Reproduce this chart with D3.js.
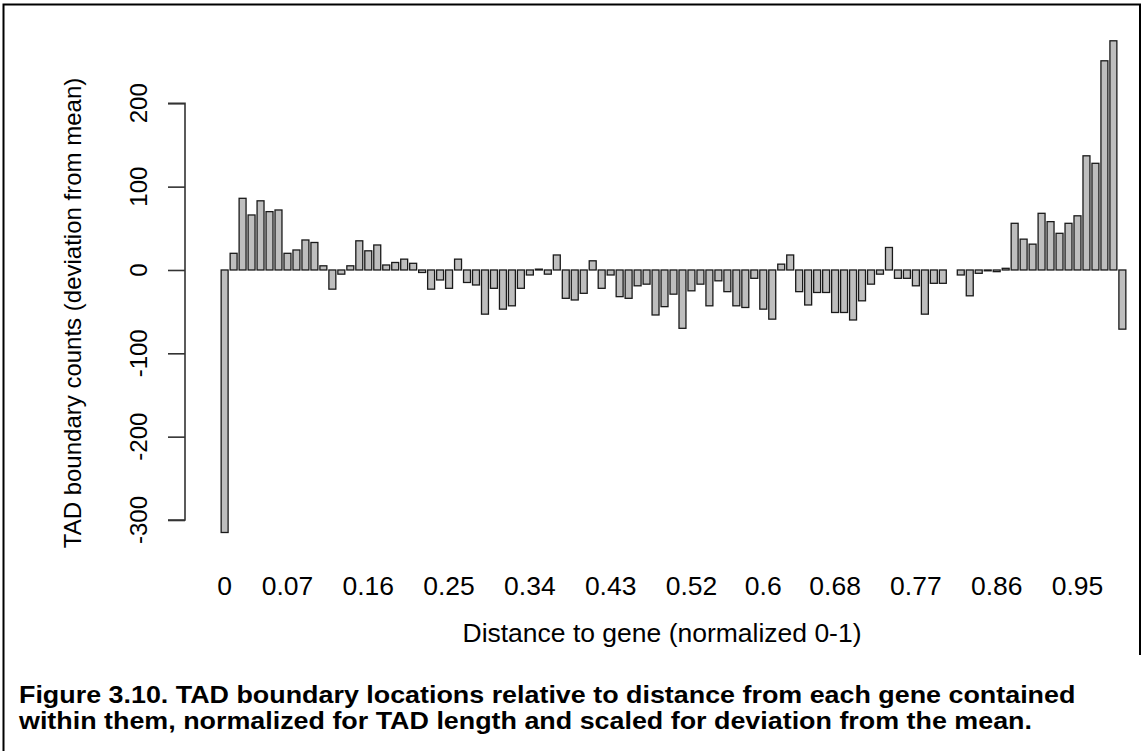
<!DOCTYPE html>
<html>
<head>
<meta charset="utf-8">
<script src="https://cdn.jsdelivr.net/npm/d3@7/dist/d3.min.js"></script>
<style>
  html, body { margin: 0; padding: 0; background: #fff; }
  svg { display: block; }
  text { font-family: "Liberation Sans", Arial, sans-serif; fill: #000; }
</style>
</head>
<body>
<svg id="chart" width="1143" height="751"></svg>
<script>
// ---- data ----
const bins = ["0.00","0.01","0.02","0.03","0.04","0.05","0.06","0.07","0.08","0.09",
  "0.10","0.11","0.12","0.13","0.14","0.15","0.16","0.17","0.18","0.19",
  "0.20","0.21","0.22","0.23","0.24","0.25","0.26","0.27","0.28","0.29",
  "0.30","0.31","0.32","0.33","0.34","0.35","0.36","0.37","0.38","0.39",
  "0.40","0.41","0.42","0.43","0.44","0.45","0.46","0.47","0.48","0.49",
  "0.50","0.51","0.52","0.53","0.54","0.55","0.56","0.57","0.58","0.59",
  "0.60","0.61","0.62","0.63","0.64","0.65","0.66","0.67","0.68","0.69",
  "0.70","0.71","0.72","0.73","0.74","0.75","0.76","0.77","0.78","0.79",
  "0.80","0.81","0.82","0.83","0.84","0.85","0.86","0.87","0.88","0.89",
  "0.90","0.91","0.92","0.93","0.94","0.95","0.96","0.97","0.98","0.99","1.00"];
const deviation = [
  -315, 20, 86, 66, 83, 70, 72, 20, 24, 36,
  33, 5, -23, -5, 5, 35, 23, 30, 6, 9,
  13, 8, -3, -23, -12, -22, 13, -15, -18, -53,
  -22, -47, -43, -22, -6, 1, -5, 18, -34, -36,
  -28, 11, -22, -6, -32, -34, -19, -17, -54, -44,
  -29, -70, -25, -17, -43, -13, -26, -43, -45, -10,
  -47, -59, 7, 18, -26, -42, -27, -27, -51, -51,
  -60, -37, -17, -5, 27, -10, -10, -19, -53, -16,
  -16, 0, -6, -31, -4, -1, -2, 2, 56, 37,
  31, 68, 58, 44, 56, 65, 137, 128, 251, 275, -71];
const xTickBins = ["0.00","0.07","0.16","0.25","0.34","0.43","0.52","0.60","0.68","0.77","0.86","0.95"];
const xTickLabels = ["0","0.07","0.16","0.25","0.34","0.43","0.52","0.6","0.68","0.77","0.86","0.95"];
const yTicks = [-300, -200, -100, 0, 100, 200];
const xTitle = "Distance to gene (normalized 0-1)";
const yTitle = "TAD boundary counts (deviation from mean)";
const captionLines = [
  "Figure 3.10. TAD boundary locations relative to distance from each gene contained",
  "within them, normalized for TAD length and scaled for deviation from the mean."
];

// ---- drawing ----
const svg = d3.select("#chart");
svg.append("rect").attr("width", 1143).attr("height", 751).attr("fill", "#fff");

// frame
svg.append("path")
  .attr("d", "M3.5,751 L3.5,4.5 L1140,4.5 L1140,655")
  .attr("fill", "none").attr("stroke", "#000").attr("stroke-width", 2);

const x = d3.scaleBand().domain(bins).range([220.5, 1126.5]).paddingInner(0.08).paddingOuter(0);
const y = d3.scaleLinear().domain([-300, 200]).range([520, 103.3]);

const sw = 1.3;
svg.append("g").selectAll("rect").data(deviation).join("rect")
  .attr("x", (d, i) => x(bins[i]) + sw / 2)
  .attr("width", x.bandwidth() - sw)
  .attr("y", d => Math.min(y(d), y(0)))
  .attr("height", d => Math.abs(y(d) - y(0)))
  .attr("fill", "#bebebe")
  .attr("stroke", "#1a1a1a")
  .attr("stroke-width", sw);

// y axis
const yAxis = d3.axisLeft(y).tickValues(yTicks).tickSize(17).tickFormat("");
const gy = svg.append("g").attr("transform", "translate(185,0)").call(yAxis);
gy.selectAll("path, line").attr("stroke", "#333").attr("stroke-width", 1.6);
gy.select(".domain").attr("d", `M-17,${y(200)}H0V${y(-300)}H-17`);
gy.selectAll(".tickLabelR").data(yTicks).join("text")
  .attr("transform", d => `translate(-38,${y(d)}) rotate(-90)`)
  .attr("text-anchor", "middle")
  .style("font-size", "24px")
  .text(d => d);

// x labels
const sx = 1.06;
svg.append("g").selectAll("text").data(xTickBins).join("text")
  .attr("transform", d => `translate(${x(d) + x.bandwidth() / 2},594.5) scale(${sx},1)`)
  .attr("text-anchor", "middle")
  .style("font-size", "25px")
  .text((d, i) => xTickLabels[i]);

// axis titles
svg.append("text").attr("transform", `translate(662,642) scale(${sx},1)`).attr("text-anchor", "middle")
  .style("font-size", "25px").text(xTitle);
svg.append("text").attr("transform", "translate(81,313) rotate(-90)").attr("text-anchor", "middle")
  .style("font-size", "24px").text(yTitle);

// caption, stretched to the measured line width
const cap = svg.append("g");
const capText = cap.selectAll("text").data(captionLines).join("text")
  .attr("x", 0).attr("y", 0)
  .style("font-size", "23px").style("font-weight", "bold")
  .text(d => d);
const w0 = capText.nodes()[0].getComputedTextLength();
const csx = (1076 - 19) / w0;
capText.attr("transform", (d, i) => `translate(19,${703 + i * 26}) scale(${csx},1)`);
</script>
</body>
</html>
